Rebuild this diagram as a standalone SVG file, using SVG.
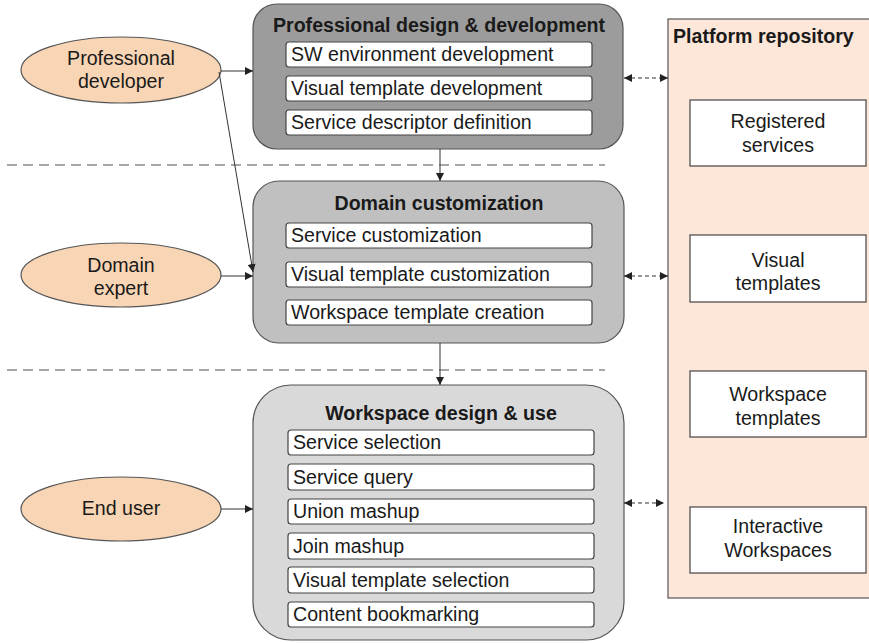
<svg xmlns="http://www.w3.org/2000/svg" width="869" height="643" viewBox="0 0 869 643">
<defs>
<style>
text{font-family:"Liberation Sans",Arial,sans-serif;fill:#1a1a1a}
.t{font-size:19.6px}
.b{font-size:19.6px;font-weight:bold}
.c{text-anchor:middle}
.actor{fill:#f8d5b4;stroke:#555;stroke-width:1.2}
.item{fill:#fff;stroke:#444;stroke-width:1.2}
.repoitem{fill:#fff;stroke:#444;stroke-width:1.2}
.sep{stroke:#8a8a8a;stroke-width:1.6;stroke-dasharray:10 6;fill:none}
.arr{stroke:#333;stroke-width:1;fill:none;marker-end:url(#ah)}
.darr{stroke:#333;stroke-width:1.2;stroke-dasharray:4 3;fill:none;marker-start:url(#ahs);marker-end:url(#ah)}
</style>
<marker id="ah" viewBox="0 0 10 10" refX="10" refY="5" markerWidth="8" markerHeight="8" markerUnits="userSpaceOnUse" orient="auto"><path d="M0,0 L10,5 L0,10 z" fill="#222"/></marker>
<marker id="ahs" viewBox="0 0 10 10" refX="0" refY="5" markerWidth="8" markerHeight="8" markerUnits="userSpaceOnUse" orient="auto"><path d="M10,0 L0,5 L10,10 z" fill="#222"/></marker>
</defs>
<rect width="869" height="643" fill="#fff"/>

<g id="separators">
<line class="sep" x1="7" y1="165" x2="605" y2="165"/>
<line class="sep" x1="7" y1="370" x2="605" y2="370"/>
</g>

<g id="repository">
<rect x="668" y="19" width="205" height="579" fill="#fce7d8" stroke="#555" stroke-width="1.2"/>
<text class="b" x="673" y="43">Platform repository</text>
</g>
<g id="registered-services">
<rect class="repoitem" x="690" y="100" width="176" height="66"/>
<text class="t c" x="778" y="128">Registered</text>
<text class="t c" x="778" y="152">services</text>
</g>
<g id="visual-templates">
<rect class="repoitem" x="690" y="235" width="176" height="67"/>
<text class="t c" x="778" y="267">Visual</text>
<text class="t c" x="778" y="290">templates</text>
</g>
<g id="workspace-templates">
<rect class="repoitem" x="690" y="371" width="176" height="66"/>
<text class="t c" x="778" y="401">Workspace</text>
<text class="t c" x="778" y="425">templates</text>
</g>
<g id="interactive-workspaces">
<rect class="repoitem" x="690" y="507" width="176" height="66"/>
<text class="t c" x="778" y="533">Interactive</text>
<text class="t c" x="778" y="557">Workspaces</text>
</g>

<g id="professional-developer">
<ellipse class="actor" cx="121" cy="70" rx="100" ry="33"/>
<text class="t c" x="121" y="65">Professional</text>
<text class="t c" x="121" y="88">developer</text>
</g>
<g id="domain-expert">
<ellipse class="actor" cx="121" cy="275" rx="100" ry="32"/>
<text class="t c" x="121" y="272">Domain</text>
<text class="t c" x="121" y="295">expert</text>
</g>
<g id="end-user">
<ellipse class="actor" cx="121" cy="509" rx="100" ry="32"/>
<text class="t c" x="121" y="515">End user</text>
</g>

<g id="professional-design">
<rect x="253" y="4" width="370" height="145" rx="24" fill="#9c9c9c" stroke="#555" stroke-width="1.2"/>
<text class="b c" x="439" y="32">Professional design &amp; development</text>
<rect class="item" x="286" y="42" width="306" height="25" rx="3"/>
<text class="t" x="291" y="61">SW environment development</text>
<rect class="item" x="286" y="76" width="306" height="25" rx="3"/>
<text class="t" x="291" y="95">Visual template development</text>
<rect class="item" x="286" y="110" width="306" height="25" rx="3"/>
<text class="t" x="291" y="129">Service descriptor definition</text>
</g>

<g id="domain-customization">
<rect x="253" y="181" width="371" height="162" rx="26" fill="#c0c0c0" stroke="#555" stroke-width="1.2"/>
<text class="b c" x="439" y="210">Domain customization</text>
<rect class="item" x="286" y="223" width="306" height="25" rx="3"/>
<text class="t" x="291" y="242">Service customization</text>
<rect class="item" x="286" y="262" width="306" height="25" rx="3"/>
<text class="t" x="291" y="281">Visual template customization</text>
<rect class="item" x="286" y="300" width="306" height="25" rx="3"/>
<text class="t" x="291" y="319">Workspace template creation</text>
</g>

<g id="workspace-design">
<rect x="253" y="385" width="371" height="255" rx="38" fill="#d9d9d9" stroke="#555" stroke-width="1.2"/>
<text class="b c" x="441" y="420">Workspace design &amp; use</text>
<rect class="item" x="288" y="430" width="306" height="25" rx="3"/>
<text class="t" x="293" y="449">Service selection</text>
<rect class="item" x="288" y="464" width="306" height="26" rx="3"/>
<text class="t" x="293" y="484">Service query</text>
<rect class="item" x="288" y="499" width="306" height="25" rx="3"/>
<text class="t" x="293" y="518">Union mashup</text>
<rect class="item" x="288" y="533" width="306" height="26" rx="3"/>
<text class="t" x="293" y="553">Join mashup</text>
<rect class="item" x="288" y="567" width="306" height="26" rx="3"/>
<text class="t" x="293" y="587">Visual template selection</text>
<rect class="item" x="288" y="602" width="306" height="25" rx="3"/>
<text class="t" x="293" y="621">Content bookmarking</text>
</g>

<g id="connectors">
<line class="arr" x1="221" y1="71" x2="253" y2="71"/>
<line class="arr" x1="219" y1="72" x2="253" y2="272"/>
<line class="arr" x1="221" y1="276" x2="253" y2="276"/>
<line class="arr" x1="221" y1="509" x2="253" y2="509"/>
<line class="arr" x1="440" y1="149" x2="440" y2="181"/>
<line class="arr" x1="440" y1="343" x2="440" y2="385"/>
<line class="darr" x1="624" y1="78" x2="668" y2="78"/>
<line class="darr" x1="624" y1="276" x2="668" y2="276"/>
<line class="darr" x1="624" y1="503" x2="664" y2="503"/>
</g>
</svg>
